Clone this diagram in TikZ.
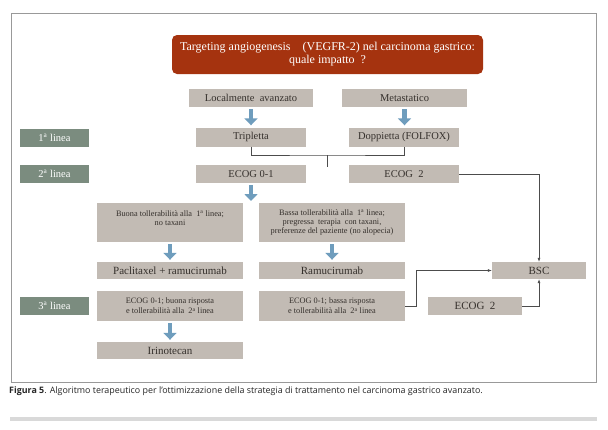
\documentclass[tikz,border=0pt]{standalone}
\usepackage{fontspec}
\setmainfont{Liberation Serif}
\newfontfamily\capfont{Open Sans}
\usetikzlibrary{arrows.meta}
\definecolor{titred}{HTML}{A5330F}
\definecolor{boxgray}{HTML}{C2BBB4}
\definecolor{lingreen}{HTML}{7B8C7F}
\definecolor{arrblue}{HTML}{6F9DBD}
\definecolor{txtgray}{HTML}{35302C}
\tikzset{
  box/.style={fill=boxgray,text=txtgray,inner sep=0pt,align=center,font=\fontsize{10.5}{11}\selectfont},
  smallbox/.style={box,font=\fontsize{8.3}{9}\selectfont},
  bigbox/.style={box,font=\fontsize{11}{12}\selectfont},
  lin/.style={fill=lingreen,text=white,minimum width=69pt,minimum height=18pt,inner sep=0pt,font=\fontsize{10.5}{11}\selectfont},
  bigarrow/.style={draw=arrblue,line width=4.5pt,-{Triangle[width=13pt,length=7pt]},shorten <=2pt,shorten >=2pt},
  conn/.style={draw=black!70,line width=0.6pt},
  connarr/.style={conn,-{Latex[length=4pt,width=3pt]}}
}
\begin{document}
\begin{tikzpicture}[x=1pt,y=-1pt]
\useasboundingbox (0,0) rectangle (608,429);
\draw [black!40,line width=1pt] (11,13) rectangle (596,382);

\node [fill=titred,text=white,rounded corners=5pt,minimum width=311pt,minimum height=39pt,inner sep=0pt,align=center,font=\fontsize{12}{13}\selectfont] (tit) at (327.5,54.5) {Targeting angiogenesis\quad (VEGFR-2) nel carcinoma gastrico:\\ quale impatto\ \ ?};

\node [box,minimum width=124pt,minimum height=18pt] (loc) at (251,98) {Localmente\ \ avanzato};
\node [box,minimum width=125pt,minimum height=18pt] (meta) at (404.5,98) {Metastatico};

\node [lin] (lin1) at (54.5,138) {1\textsuperscript{a} linea};
\node [box,minimum width=110pt,minimum height=19pt] (trip) at (251,137) {Tripletta};
\node [box,minimum width=110pt,minimum height=19pt] (dopp) at (404,137) {Doppietta (FOLFOX)};

\node [lin] (lin2) at (54.5,174) {2\textsuperscript{a} linea};
\node [box,minimum width=110pt,minimum height=18pt] (ecog01) at (251,174) {ECOG 0-1};
\node [box,minimum width=110pt,minimum height=18pt] (ecog2) at (404,174) {ECOG\ \ 2};

\node [smallbox,minimum width=146pt,minimum height=39pt] (buona) at (170,222.5) {Buona\ tollerabilità alla\ \ 1\textsuperscript{a} linea;\\ no taxani\\ ~};
\node [smallbox,minimum width=146pt,minimum height=39pt] (bassa) at (332,222.5) {Bassa tollerabilità alla\ \ 1\textsuperscript{a} linea;\\ pregressa\ \ terapia\ \ con taxani,\\ preferenze del paziente (no alopecia)};

\node [bigbox,minimum width=146pt,minimum height=17pt] (pacli) at (170,270.5) {Paclitaxel + ramucirumab};
\node [bigbox,minimum width=146pt,minimum height=17pt] (ramu) at (332,270.5) {Ramucirumab};
\node [bigbox,minimum width=94pt,minimum height=17pt] (bsc) at (539,270.5) {BSC};

\node [lin] (lin3) at (54.5,306) {3\textsuperscript{a} linea};
\node [smallbox,font=\fontsize{8.3}{10}\selectfont,minimum width=146pt,minimum height=30pt] (buonaris) at (170,306) {ECOG 0-1; buona risposta\\ e tollerabilità alla\ \ 2\textsuperscript{a} linea};
\node [smallbox,font=\fontsize{8.3}{10}\selectfont,minimum width=146pt,minimum height=30pt] (bassaris) at (332,306) {ECOG 0-1; bassa risposta\\ e tollerabilità alla\ \ 2\textsuperscript{a} linea};
\node [bigbox,minimum width=94pt,minimum height=18pt] (ecog2b) at (475,306) {ECOG\ \ 2};

\node [bigbox,minimum width=146pt,minimum height=17pt] (irino) at (170,350.5) {Irinotecan};

\coordinate (mid) at (327,155);
\coordinate (midend) at (327,167);
\coordinate (split) at (251,203);

\draw [bigarrow] (loc) -- (trip);
\draw [bigarrow] (meta.south) -- (meta.south |- dopp.north);
\draw [bigarrow] (ecog01) -- (split);
\draw [bigarrow] (buona) -- (pacli);
\draw [bigarrow] (bassa) -- (ramu);
\draw [bigarrow] (buonaris) -- (irino);

\draw [conn] (trip.south) |- (mid) -| (dopp.south);
\draw [conn] (mid) -- (midend);
\draw [connarr] (ecog2.east) -| (bsc.north);
\draw [connarr] (bassaris.east) -- ++(11,0) |- (bsc.west);
\draw [connarr] (ecog2b.east) -| (bsc.south);

\node [anchor=west,inner sep=0pt,text=black!85,font=\capfont\fontsize{8.9}{10}\selectfont] (cap) at (9,391) {\textbf{Figura 5}. Algoritmo terapeutico per l’ottimizzazione della strategia di trattamento nel carcinoma gastrico avanzato.};
\fill [black!15] (10,417) rectangle (597,421);
\end{tikzpicture}
\end{document}
